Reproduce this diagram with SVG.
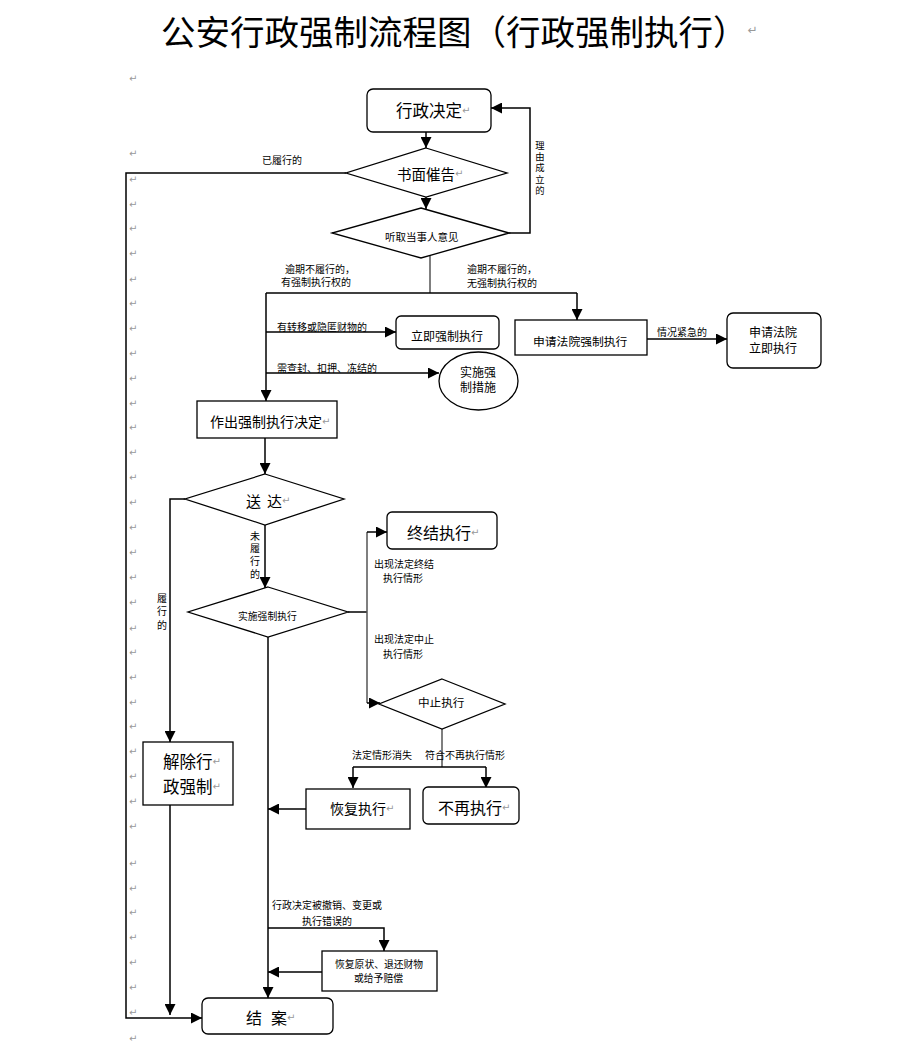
<svg xmlns="http://www.w3.org/2000/svg" width="924" height="1057" viewBox="0 0 924 1057">
<style>
text{font-family:"Noto Sans CJK SC","Liberation Sans",sans-serif;fill:#000;dominant-baseline:central}
.n{fill:#fff;stroke:#000;stroke-width:1.3}
.c{fill:none;stroke:#000;stroke-width:1.5}
.g{stroke:#555}
.s{font-size:10px}
.vt{writing-mode:vertical-rl;dominant-baseline:auto}
.r{fill:#999;font-family:"DejaVu Sans",sans-serif}
.pm{font-size:10px;fill:#999;font-family:"DejaVu Sans",sans-serif}
</style>
<defs>
<marker id="a" markerUnits="userSpaceOnUse" markerWidth="11" markerHeight="11" refX="11" refY="5.5" orient="auto">
<path d="M0,0 L11,5.5 L0,11 Z" fill="#000"/>
</marker>
</defs>
<rect width="924" height="1057" fill="#fff"/>
<g id="title">
<text x="161" y="30" style="font-size:34.5px">公安行政强制流程图（行政强制执行）<tspan class="r" style="font-size:12px">↵</tspan></text>
</g>
<g id="para-marks">
<text class="pm" x="129" y="78">↵</text>
<text class="pm" x="129" y="153">↵</text><text class="pm" x="129" y="179">↵</text><text class="pm" x="129" y="204">↵</text>
<text class="pm" x="129" y="228">↵</text><text class="pm" x="129" y="253">↵</text><text class="pm" x="129" y="279">↵</text>
<text class="pm" x="129" y="303">↵</text><text class="pm" x="129" y="328">↵</text><text class="pm" x="129" y="353">↵</text>
<text class="pm" x="129" y="378">↵</text><text class="pm" x="129" y="403">↵</text><text class="pm" x="129" y="427">↵</text>
<text class="pm" x="129" y="452">↵</text><text class="pm" x="129" y="477">↵</text><text class="pm" x="129" y="502">↵</text>
<text class="pm" x="129" y="527">↵</text><text class="pm" x="129" y="552">↵</text><text class="pm" x="129" y="577">↵</text>
<text class="pm" x="129" y="602">↵</text><text class="pm" x="129" y="628">↵</text><text class="pm" x="129" y="652">↵</text>
<text class="pm" x="129" y="677">↵</text><text class="pm" x="129" y="702">↵</text><text class="pm" x="129" y="726">↵</text>
<text class="pm" x="129" y="751">↵</text><text class="pm" x="129" y="776">↵</text><text class="pm" x="129" y="801">↵</text>
<text class="pm" x="129" y="826">↵</text><text class="pm" x="129" y="863">↵</text><text class="pm" x="129" y="888">↵</text>
<text class="pm" x="129" y="912">↵</text><text class="pm" x="129" y="937">↵</text><text class="pm" x="129" y="962">↵</text>
<text class="pm" x="129" y="987">↵</text><text class="pm" x="129" y="1012">↵</text><text class="pm" x="129" y="1038">↵</text>
</g>
<g id="connectors">
<line class="c" x1="426" y1="132" x2="426" y2="148" marker-end="url(#a)"/>
<line class="c" x1="426" y1="197" x2="426" y2="209" marker-end="url(#a)"/>
<polyline class="c" points="509,233 530,233 530,108 491,108" marker-end="url(#a)"/>
<polyline class="c" points="346,173 126,173 126,1018 202,1018" marker-end="url(#a)"/>
<line class="c g" x1="430" y1="256" x2="430" y2="293"/>
<line class="c" x1="266" y1="293" x2="577" y2="293"/>
<line class="c" x1="577" y1="293" x2="577" y2="320" marker-end="url(#a)"/>
<line class="c" x1="266" y1="293" x2="266" y2="401" marker-end="url(#a)"/>
<line class="c" x1="266" y1="332" x2="396" y2="332" marker-end="url(#a)"/>
<line class="c" x1="266" y1="373" x2="439" y2="373" marker-end="url(#a)"/>
<line class="c" x1="647" y1="339" x2="727" y2="339" marker-end="url(#a)"/>
<line class="c" x1="265" y1="438" x2="265" y2="474" marker-end="url(#a)"/>
<polyline class="c" points="185,499 170,499 170,742" marker-end="url(#a)"/>
<line class="c" x1="265" y1="525" x2="265" y2="588" marker-end="url(#a)"/>
<line class="c" x1="170" y1="805" x2="170" y2="1015" marker-end="url(#a)"/>
<line class="c" x1="268" y1="637" x2="268" y2="998" marker-end="url(#a)"/>
<line class="c" x1="348" y1="612" x2="367" y2="612"/>
<line class="c g" x1="367" y1="532" x2="367" y2="703"/>
<line class="c" x1="367" y1="532" x2="387" y2="532" marker-end="url(#a)"/>
<line class="c" x1="367" y1="703" x2="380" y2="703" marker-end="url(#a)"/>
<line class="c g" x1="442" y1="729" x2="442" y2="767"/>
<line class="c" x1="353" y1="767" x2="486" y2="767"/>
<line class="c" x1="353" y1="767" x2="353" y2="788" marker-end="url(#a)"/>
<line class="c" x1="486" y1="767" x2="486" y2="788" marker-end="url(#a)"/>
<line class="c" x1="306" y1="809" x2="268" y2="809" marker-end="url(#a)"/>
<polyline class="c" points="268,928 384,928 384,951" marker-end="url(#a)"/>
<line class="c" x1="322" y1="972" x2="268" y2="972" marker-end="url(#a)"/>
<text class="s" x="262" y="159">已履行的</text>
<text class="vt" x="540" y="140.5" style="font-size:9.3px;letter-spacing:2.1px">理由成立的</text>
<text class="s" x="285" y="268">逾期不履行的，</text>
<text class="s" x="281" y="281">有强制执行权的</text>
<text class="s" x="467" y="268">逾期不履行的，</text>
<text class="s" x="467" y="282">无强制执行权的</text>
<text class="s" x="277" y="326">有转移或隐匿财物的</text>
<text class="s" x="277" y="367">需查封、扣押、冻结的</text>
<text class="s" x="657" y="331">情况紧急的</text>
<text class="vt" x="255" y="531" style="font-size:10px;letter-spacing:2.7px">未履行的</text>
<text class="vt" x="162" y="593" style="font-size:10px;letter-spacing:3.7px">履行的</text>
<text class="s" x="374" y="563">出现法定终结</text>
<text class="s" x="383" y="577">执行情形</text>
<text class="s" x="374" y="638">出现法定中止</text>
<text class="s" x="383" y="653">执行情形</text>
<text class="s" x="352" y="754">法定情形消失</text>
<text class="s" x="425" y="754">符合不再执行情形</text>
<text class="s" x="272" y="904">行政决定被撤销、变更或</text>
<text class="s" x="302" y="920">执行错误的</text>
</g>
<g id="n-xzjd">
<rect class="n" x="367" y="89" width="124" height="43" rx="6"/>
<text x="396" y="110" style="font-size:16.5px">行政决定<tspan class="r" style="font-size:10px">↵</tspan></text>
</g>
<g id="n-smcg">
<polygon class="n" points="426,148 507,173 426,197 346,173"/>
<text x="397" y="173" style="font-size:14.5px">书面催告<tspan class="r" style="font-size:10px">↵</tspan></text>
</g>
<g id="n-tqyj">
<polygon class="n" points="421,208 509,233 421,258 332,233"/>
<text x="385" y="236" style="font-size:10.5px">听取当事人意见</text>
</g>
<g id="n-ljqz">
<rect class="n" x="396" y="316" width="103" height="33" rx="5"/>
<text x="411" y="335" style="font-size:12px">立即强制执行</text>
</g>
<g id="n-ssqzcs">
<ellipse class="n" cx="478.5" cy="381" rx="39.5" ry="29"/>
<text x="460" y="371" style="font-size:12px">实施强</text>
<text x="460" y="386" style="font-size:12px">制措施</text>
</g>
<g id="n-sqfyqz">
<rect class="n" x="515" y="320" width="132" height="35"/>
<text x="533" y="340" style="font-size:11.8px">申请法院强制执行</text>
</g>
<g id="n-sqfylj">
<rect class="n" x="727" y="313" width="94" height="55" rx="6"/>
<text x="749" y="331" style="font-size:12px">申请法院</text>
<text x="749" y="347" style="font-size:12px">立即执行</text>
</g>
<g id="n-zcqzjd">
<rect class="n" x="197" y="401" width="140" height="37"/>
<text x="210" y="421" style="font-size:14px">作出强制执行决定<tspan class="r" style="font-size:10px">↵</tspan></text>
</g>
<g id="n-sd">
<polygon class="n" points="265,474 344,499 265,525 185,499"/>
<text x="246" y="500" style="font-size:15px">送<tspan x="267">达</tspan><tspan class="r" style="font-size:10px">↵</tspan></text>
</g>
<g id="n-ssqzzx">
<polygon class="n" points="268,587 348,612 268,637 188,612"/>
<text x="238" y="616" style="font-size:9.8px">实施强制执行</text>
</g>
<g id="n-zjzx">
<rect class="n" x="387" y="512" width="110" height="37" rx="5"/>
<text x="407" y="532" style="font-size:16px">终结执行<tspan class="r" style="font-size:10px">↵</tspan></text>
</g>
<g id="n-zzzx">
<polygon class="n" points="442,679 505,704 442,729 379,704"/>
<text x="418" y="702" style="font-size:11.6px">中止执行</text>
</g>
<g id="n-jcxzqz">
<rect class="n" x="143" y="742" width="90" height="63"/>
<text x="163" y="761" style="font-size:16.5px">解除行<tspan class="r" style="font-size:10px">↵</tspan></text>
<text x="163" y="786" style="font-size:16.5px">政强制<tspan class="r" style="font-size:10px">↵</tspan></text>
</g>
<g id="n-hfzx">
<rect class="n" x="306" y="789" width="104" height="40"/>
<text x="330" y="808" style="font-size:14px">恢复执行<tspan class="r" style="font-size:10px">↵</tspan></text>
</g>
<g id="n-bzzx">
<rect class="n" x="423" y="787" width="96" height="37" rx="5"/>
<text x="438" y="807" style="font-size:16px">不再执行<tspan class="r" style="font-size:10px">↵</tspan></text>
</g>
<g id="n-hfyz">
<rect class="n" x="322" y="951" width="115" height="40"/>
<text x="335" y="964" style="font-size:9.8px">恢复原状、退还财物</text>
<text x="354" y="978" style="font-size:9.8px">或给予赔偿</text>
</g>
<g id="n-ja">
<rect class="n" x="202" y="998" width="131" height="36" rx="6"/>
<text x="246" y="1017" style="font-size:16px">结<tspan x="271">案</tspan><tspan class="r" style="font-size:10px">↵</tspan></text>
</g>
</svg>
